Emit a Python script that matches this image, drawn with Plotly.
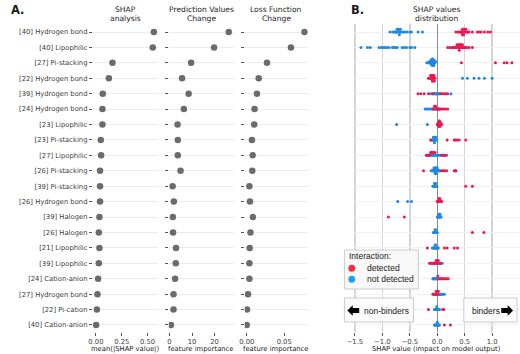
import numpy as np
import plotly.graph_objects as go

W, H = 520, 354

features = [
    "[40] Hydrogen bond", "[40] Lipophilic", "[27] Pi-stacking", "[22] Hydrogen bond",
    "[39] Hydrogen bond", "[24] Hydrogen bond", "[23] Lipophilic", "[23] Pi-stacking",
    "[27] Lipophilic", "[26] Pi-stacking", "[39] Pi-stacking", "[26] Hydrogen bond",
    "[39] Halogen", "[26] Halogen", "[21] Lipophilic", "[39] Lipophilic",
    "[24] Cation-anion", "[27] Hydrogen bond", "[22] Pi-cation", "[40] Cation-anion",
]

shap_mean_abs = [0.56, 0.55, 0.16, 0.125, 0.066, 0.063, 0.063, 0.047, 0.05, 0.04,
                 0.04, 0.04, 0.034, 0.028, 0.034, 0.028, 0.021, 0.015, 0.009, 0.002]
pred_change = [26.3, 19.8, 9.6, 5.6, 8.5, 6.4, 3.6, 3.7, 3.7, 4.9,
               1.4, 1.95, 1.5, 1.6, 2.9, 2.8, 2.5, 1.8, 1.8, 0.65]
loss_change = [0.077, 0.059, 0.027, 0.016, 0.0136, 0.0105, 0.010, 0.007, 0.008, 0.0075,
               0.0036, 0.0043, 0.0083, 0.005, 0.004, 0.0036, 0.0036, 0.0017, 0.0004, 0.0]

shap_not_detected = [
    [-0.86, -0.81, -0.78, -0.76, -0.75, -0.74, -0.73, -0.72, -0.71, -0.70, -0.70, -0.69,
     -0.68, -0.67, -0.65, -0.62, -0.59, -0.55, -0.50, -0.47, -0.35, -0.27],
    [-1.39, -1.27, -1.22, -1.06, -1.02, -0.98, -0.95, -0.92, -0.88, -0.82, -0.79, -0.76,
     -0.73, -0.64, -0.60, -0.56, -0.50, -0.47, -0.41],
    [-0.19, -0.17, -0.15, -0.14, -0.13, -0.12, -0.12, -0.11, -0.11, -0.10, -0.10, -0.10,
     -0.09, -0.09, -0.09, -0.08, -0.08, -0.08, -0.08, -0.07, -0.07, -0.07, -0.06, -0.06,
     -0.05, -0.04, -0.03],
    [0.46, 0.55, 0.67, 0.76, 0.86, 1.0],
    [-0.12, -0.09, -0.07, -0.05, -0.04, -0.03, -0.02, -0.01, 0.0, 0.01, 0.02, 0.04, 0.08,
     0.16, 0.25],
    [-0.22, -0.19, -0.16, -0.13, -0.10, -0.07, -0.05, -0.03, -0.01, 0.01, 0.03],
    [-0.74, -0.18],
    [-0.11, -0.09, -0.08, -0.07, -0.07, -0.06, -0.06, -0.05, -0.05, -0.05, -0.04, -0.04,
     -0.03, -0.03, -0.02, -0.01],
    [-0.18, -0.15, -0.12, -0.10, -0.08, -0.06, -0.04, -0.02, 0.0, 0.03, 0.06, 0.10, 0.13, 0.17],
    [-0.11, -0.09, -0.08, -0.07, -0.06, -0.06, -0.05, -0.05, -0.04, -0.04, -0.04, -0.03,
     -0.03, -0.03, -0.02, -0.02, -0.02, -0.01, -0.01, 0.0, 0.0, 0.01, 0.02, 0.03, 0.04],
    [-0.08, -0.07, -0.06, -0.05, -0.05, -0.04, -0.04, -0.03, -0.03, -0.02, -0.01],
    [-0.72, -0.54, -0.47],
    [0.0, 0.01, 0.02, 0.03, 0.03, 0.04, 0.04, 0.05, 0.05, 0.06, 0.07],
    [-0.07, -0.06, -0.05, -0.04, -0.04, -0.03, -0.03, -0.02, -0.01, 0.0],
    [-0.09, -0.07, -0.06, -0.05, -0.04, -0.04, -0.03, -0.03, -0.02, -0.01, 0.0, 0.01, 0.02],
    [-0.02, 0.0, 0.01, 0.02, 0.03, 0.05, 0.07, 0.09],
    [-0.08, -0.07, -0.06, -0.05, -0.04, -0.03, -0.02, -0.01, 0.0, 0.01],
    [-0.02, 0.0, 0.02, 0.03, 0.04, 0.05, 0.06, 0.08, 0.10, 0.13],
    [-0.05, -0.04, -0.03, -0.02, -0.01, -0.01, 0.0, 0.01, 0.02, 0.03, 0.04],
    [-0.05, -0.04, -0.03, -0.02, -0.01, 0.0, 0.0, 0.01, 0.02, 0.03, 0.04],
]

shap_detected = [
    [0.34, 0.38, 0.41, 0.43, 0.44, 0.45, 0.46, 0.46, 0.47, 0.48, 0.48, 0.49, 0.50, 0.51,
     0.52, 0.54, 0.56, 0.58, 0.64, 0.73, 0.77, 0.80, 0.86, 0.92, 0.97],
    [0.19, 0.23, 0.27, 0.29, 0.31, 0.33, 0.35, 0.36, 0.37, 0.38, 0.39, 0.40, 0.40, 0.41,
     0.42, 0.43, 0.44, 0.45, 0.46, 0.47, 0.49, 0.51, 0.54, 0.58, 0.64],
    [0.44, 1.06, 1.22, 1.27, 1.36],
    [-0.16, -0.14, -0.13, -0.12, -0.11, -0.11, -0.10, -0.10, -0.09, -0.09, -0.09, -0.08,
     -0.08, -0.08, -0.07, -0.07, -0.06, -0.06, -0.05, -0.04],
    [-0.35, -0.30, -0.24, -0.16, -0.08, 0.06, 0.10, 0.14, 0.19],
    [-0.08, -0.05, -0.03, -0.02, 0.0, 0.02, 0.04, 0.06, 0.09, 0.12, 0.15, 0.19],
    [0.0, 0.01, 0.02, 0.02, 0.03, 0.03, 0.03, 0.04, 0.04, 0.04, 0.04, 0.05, 0.05, 0.05,
     0.06, 0.06, 0.07, 0.08],
    [-0.12, 0.18, 0.31, 0.33, 0.36, 0.40, 0.52],
    [-0.20, -0.17, -0.14, -0.12, -0.10, -0.08, -0.06, -0.04, 0.08, 0.12, 0.15],
    [-0.25, 0.07, 0.10, 0.13, 0.17, 0.31, 0.33, 0.34],
    [0.52, 0.64],
    [0.0, 0.01, 0.02, 0.03, 0.03, 0.04, 0.04, 0.05, 0.05, 0.06, 0.07, 0.08],
    [-0.89, -0.60],
    [0.64, 0.85],
    [-0.18, 0.13, 0.18, 0.31, 0.37],
    [-0.14, -0.12, -0.10, -0.08, -0.06, -0.05, -0.04, -0.03, -0.02, -0.01, 0.0, 0.02, 0.04, 0.06],
    [0.01, 0.03, 0.05, 0.07, 0.09, 0.11, 0.13, 0.15, 0.18, 0.20],
    [-0.08, -0.06, -0.05, -0.04, -0.03, -0.02, -0.01, 0.0, 0.01, 0.02],
    [-0.16, 0.10, 0.12],
    [0.13, 0.24],
]

shap_ticks = [-1.5, -1.0, -0.5, 0.0, 0.5, 1.0]
shap_ticktext = ["\u22121.5", "\u22121.0", "\u22120.5", "0.0", "0.5", "1.0"]

# ---------------- layout helpers ----------------
def px(x):
    return x / W

def py(y):
    return 1 - y / H

RED = "#f0164f"
BLUE = "#1e88e5"
DOT = "#6b6b6b"
FONT = "DejaVu Sans"
ARIAL = "Liberation Sans"

ypos = np.arange(len(features))
row_px0, row_px_step = 32.0, 15.42
dom_top, dom_bot = 24.0, 332.0
y_range = [len(features) - 1 + (dom_bot - (row_px0 + row_px_step * (len(features) - 1))) / row_px_step,
           -(row_px0 - dom_top) / row_px_step]
ydom = [py(dom_bot), py(dom_top)]


def swarm(vals, nbins=100, row_height=0.4):
    vals = np.asarray(vals, float)
    n = len(vals)
    quant = np.round(nbins * (vals - vals.min()) / (vals.max() - vals.min() + 1e-8))
    inds = np.argsort(quant, kind="stable")
    layer, last = 0, -1
    ys = np.zeros(n)
    for i in inds:
        if quant[i] != last:
            layer = 0
        ys[i] = np.ceil(layer / 2) * ((layer % 2) * 2 - 1)
        layer += 1
        last = quant[i]
    ys *= 0.9 * (row_height / np.max(ys + 1))
    return ys


fig = go.Figure()

# Panel A dot plots
for i, vals in enumerate([shap_mean_abs, pred_change, loss_change]):
    sfx = "" if i == 0 else str(i + 1)
    fig.add_trace(go.Scatter(
        x=vals, y=ypos, mode="markers", xaxis="x" + sfx, yaxis="y" + sfx,
        marker=dict(color=DOT, size=6.5, line=dict(width=0)), showlegend=False,
        hoverinfo="skip"))

# Panel B beeswarm
bx, by, rx, ry = [], [], [], []
for r in range(len(features)):
    b = shap_not_detected[r]
    d = shap_detected[r]
    allv = list(b) + list(d)
    offs = swarm(allv)
    for k, v in enumerate(b):
        bx.append(v)
        by.append(r - offs[k])
    for k, v in enumerate(d):
        rx.append(v)
        ry.append(r - offs[len(b) + k])

fig.add_trace(go.Scatter(x=bx, y=by, mode="markers", xaxis="x4", yaxis="y4",
                         marker=dict(color=BLUE, size=3.0, line=dict(width=0)),
                         showlegend=False, hoverinfo="skip"))
fig.add_trace(go.Scatter(x=rx, y=ry, mode="markers", xaxis="x4", yaxis="y4",
                         marker=dict(color=RED, size=3.0, line=dict(width=0)),
                         showlegend=False, hoverinfo="skip"))

tickfont = dict(family=FONT, size=6.8, color="#3a3a3a")

def xaxis_cfg(dom, rng, tickvals, ticktext):
    return dict(domain=[px(dom[0]), px(dom[1])], range=rng, tickvals=tickvals, ticktext=ticktext,
                ticks="outside", ticklen=3, tickwidth=1, tickcolor="#555555",
                showgrid=False, zeroline=False, showline=False, tickfont=tickfont,
                anchor=None, fixedrange=True)

def yaxis_cfg(anchor, labels=False):
    return dict(domain=ydom, range=y_range, tickvals=list(ypos),
                ticktext=features if labels else None,
                showticklabels=labels, ticks="outside", ticklen=3, tickwidth=1,
                tickcolor="#555555", showgrid=True, gridcolor="#ebebeb", gridwidth=1,
                zeroline=False, showline=False, tickfont=tickfont, anchor=anchor,
                fixedrange=True)

x1 = xaxis_cfg([87, 153], [-0.03, 0.6], [0, 0.25, 0.5], ["0.00", "0.25", "0.50"]); x1["anchor"] = "y"
x2 = xaxis_cfg([164, 230], [-0.3, 28.6], [0, 10, 20], ["0", "10", "20"]); x2["anchor"] = "y2"
x3 = xaxis_cfg([241, 305], [-0.0026, 0.0816], [0, 0.05], ["0.00", "0.05"]); x3["anchor"] = "y3"
x4 = xaxis_cfg([351, 519], [-1.53, 1.49], shap_ticks, shap_ticktext); x4["anchor"] = "y4"
x4.update(showgrid=True, gridcolor="#d4d4d4", gridwidth=1.4,
          zeroline=True, zerolinecolor="#8a8a8a", zerolinewidth=1.4)

y1 = yaxis_cfg("x", labels=True)
y2 = yaxis_cfg("x2")
y3 = yaxis_cfg("x3")
y4 = yaxis_cfg("x4")
y4.update(ticks="", gridcolor="#f0f0f0")

fig.update_layout(
    width=W, height=H, margin=dict(l=0, r=0, t=0, b=0),
    paper_bgcolor="white", plot_bgcolor="white",
    xaxis=x1, xaxis2=x2, xaxis3=x3, xaxis4=x4,
    yaxis=y1, yaxis2=y2, yaxis3=y3, yaxis4=y4,
    showlegend=False,
)

ann = []
def text(x, y, s, size=7.6, family=FONT, color="#1a1a1a", xanchor="center", bold=False):
    if bold:
        s = "<b>" + s + "</b>"
    ann.append(dict(x=px(x), y=py(y), xref="paper", yref="paper", text=s, showarrow=False,
                    xanchor=xanchor, yanchor="middle",
                    font=dict(family=family, size=size, color=color)))

# panel letters
text(2, 10, "A.", size=11.5, xanchor="left", bold=True)
text(347, 10, "B.", size=11.5, xanchor="left", bold=True)
# subplot titles
text(120, 10, "SHAP"); text(120, 18.5, "analysis")
text(197, 10, "Prediction Values"); text(197, 18.5, "Change")
text(273, 10, "Loss Function"); text(273, 18.5, "Change")
text(435, 10, "SHAP values"); text(435, 18.5, "distribution")
# axis titles
text(120, 348.5, "mean(|SHAP value|)", size=6.8)
text(197, 348.5, "feature importance", size=6.8)
text(273, 348.5, "feature importance", size=6.8)
text(435, 348.5, "SHAP value (impact on model output)", size=6.8)

# legend box
shapes = []
def rect(x0, y0, x1_, y1_, fill="#f8f8f8"):
    shapes.append(dict(type="rect", xref="paper", yref="paper", x0=px(x0), x1=px(x1_),
                       y0=py(y1_), y1=py(y0), fillcolor=fill,
                       line=dict(color="#cccccc", width=1), layer="above"))

rect(342, 250, 417, 289)
text(345, 256, "Interaction:", size=8.5, family=ARIAL, xanchor="left")
for yy, col, lab in [(268.3, "#f0303a", "detected"), (279.3, "#1fa2e8", "not detected")]:
    shapes.append(dict(type="circle", xref="paper", yref="paper",
                       x0=px(346), x1=px(353), y0=py(yy + 3.5), y1=py(yy - 3.5),
                       fillcolor=col, line=dict(width=0), layer="above"))
    text(363, yy, lab, size=8.5, family=ARIAL, xanchor="left")

# binder boxes
rect(342, 298, 412, 322, fill="#fbfbfb")
rect(463, 298, 517, 322, fill="#fbfbfb")

def arrow(x_tail, x_tip, yc):
    d = 1 if x_tip > x_tail else -1
    xh = x_tip - d * 5.5
    pts = [(x_tail, yc - 2.6), (xh, yc - 2.6), (xh, yc - 5.2), (x_tip, yc),
           (xh, yc + 5.2), (xh, yc + 2.6), (x_tail, yc + 2.6)]
    path = "M " + " L ".join(f"{px(a):.5f},{py(b):.5f}" for a, b in pts) + " Z"
    shapes.append(dict(type="path", xref="paper", yref="paper", path=path,
                       fillcolor="black", line=dict(width=0), layer="above"))

arrow(357, 345, 310.5)
arrow(501, 513, 310.5)
text(360, 310.5, "non-binders", size=8.5, family=ARIAL, xanchor="left")
text(469, 310.5, "binders", size=8.5, family=ARIAL, xanchor="left")

fig.update_layout(annotations=ann, shapes=shapes)
fig.write_html("out.html", config={"displayModeBar": False, "staticPlot": True},
               post_script="document.body.style.margin='0px';document.body.style.overflow='hidden';")
